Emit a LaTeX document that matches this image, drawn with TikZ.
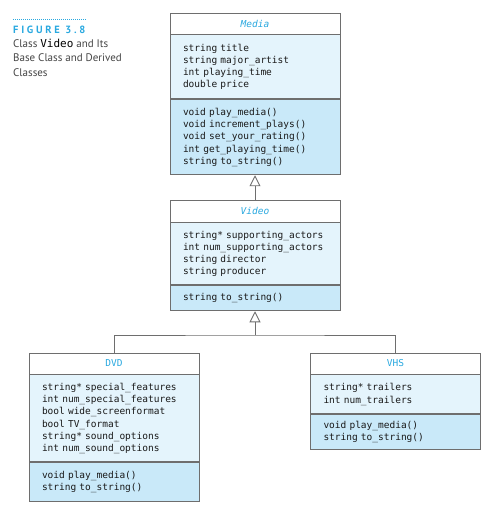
\documentclass[tikz,border=0pt]{standalone}
\usepackage{fontspec}
\setmainfont{PT Sans}
\setmonofont{DejaVu Sans Mono}
\usepackage{tikz}
\usetikzlibrary{arrows.meta, positioning}
\definecolor{figcyan}{RGB}{42,169,224}
\definecolor{umlgrau}{RGB}{110,110,110}
\definecolor{attrblue}{RGB}{228,244,252}
\definecolor{opsblue}{RGB}{201,233,249}
\definecolor{captext}{RGB}{68,68,68}

\begin{document}
\begin{tikzpicture}[
    x=1pt, y=-1pt,
    umlhead/.style={
        rectangle, draw=umlgrau, line width=0.9pt, fill=white,
        minimum width=170pt, minimum height=21pt, inner sep=0pt,
        font=\ttfamily\fontsize{9.5}{11}\selectfont, text=figcyan
    },
    umlattr/.style={
        rectangle, draw=umlgrau, line width=0.9pt, fill=attrblue,
        minimum width=170pt, inner xsep=13pt, inner ysep=0pt,
        text width=144pt, align=left,
        font=\ttfamily\fontsize{9.5}{12.3}\selectfont, text=black!90
    },
    umlops/.style={
        umlattr, fill=opsblue
    },
    link/.style={
        draw=umlgrau, line width=0.9pt
    },
    inherit/.style={
        link, -{Triangle[open, length=11pt, width=11pt, line width=0.9pt]}
    }
]
\useasboundingbox (0,0) rectangle (491,510);

% caption
\draw[figcyan, line width=1pt, dash pattern=on 1pt off 1pt] (13,19.5) -- (87,19.5);
\node[anchor=base west, inner sep=0pt, text=figcyan,
      font=\bfseries\fontsize{10.5}{12}\selectfont]
    (figlabel) at (13,33.5) {\addfontfeatures{LetterSpace=26}FIGURE 3.8};
\node[anchor=north west, inner sep=0pt, align=left, text=captext,
      font=\fontsize{11}{14.5}\selectfont]
    (figcaption) at (13,38.5) {Class \textcolor{black}{\texttt{Video}} and Its\\Base Class and Derived\\Classes};

% Media
\node[umlhead] (mediaHead) at (255,23.5) {\textit{Media}};
\node[umlattr, below=0pt of mediaHead, minimum height=64pt] (mediaAttr)
    {string title\\string major\_artist\\int playing\_time\\double price};
\node[umlops, below=0pt of mediaAttr, minimum height=75pt] (mediaOps)
    {void play\_media()\\void increment\_plays()\\void set\_your\_rating()\\int get\_playing\_time()\\string to\_string()};

% Video
\node[umlhead, minimum height=22pt] (videoHead) at (255,211) {\textit{Video}};
\node[umlattr, below=0pt of videoHead, minimum height=62pt] (videoAttr)
    {string* supporting\_actors\\int num\_supporting\_actors\\string director\\string producer};
\node[umlops, below=0pt of videoAttr, minimum height=25pt] (videoOps)
    {string to\_string()};

% DVD
\node[umlhead] (dvdHead) at (114,363.5) {DVD};
\node[umlattr, below=0pt of dvdHead, minimum height=87pt] (dvdAttr)
    {string* special\_features\\int num\_special\_features\\bool wide\_screenformat\\bool TV\_format\\string* sound\_options\\int num\_sound\_options};
\node[umlops, below=0pt of dvdAttr, minimum height=39pt] (dvdOps)
    {void play\_media()\\string to\_string()};

% VHS
\node[umlhead] (vhsHead) at (395.5,363.5) {VHS};
\node[umlattr, below=0pt of vhsHead, minimum height=39pt] (vhsAttr)
    {string* trailers\\int num\_trailers};
\node[umlops, below=0pt of vhsAttr, minimum height=35pt] (vhsOps)
    {void play\_media()\\string to\_string()};

% inheritance
\draw[inherit] (videoHead.north) -- (mediaOps.south);
\coordinate (joint) at (255,335);
\draw[link] (dvdHead.north) |- (joint) -| (vhsHead.north);
\draw[inherit] (joint) -- (videoOps.south);

\end{tikzpicture}
\end{document}
